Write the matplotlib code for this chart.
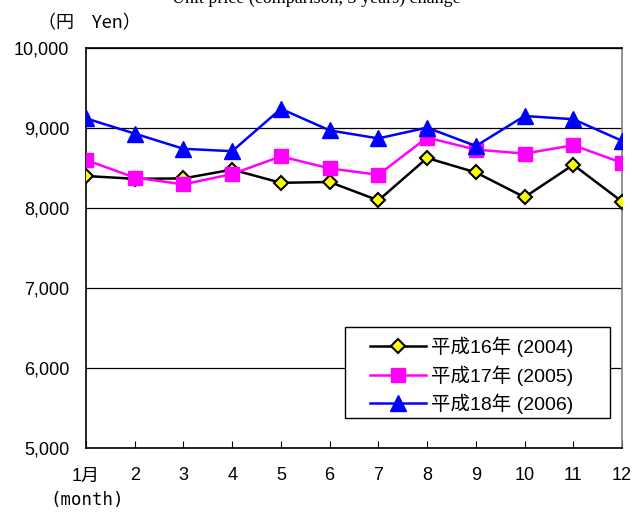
import matplotlib
matplotlib.use("Agg")
import matplotlib.pyplot as plt
from matplotlib.patches import Rectangle

plt.rcParams['font.family'] = ['Liberation Sans', 'Noto Sans CJK JP', 'DejaVu Sans']

# Monthly values (yen)
months = list(range(1, 13))
month_labels = ['1月', '2', '3', '4', '5', '6', '7', '8', '9', '10', '11', '12']
y2004 = [8400, 8365, 8370, 8480, 8315, 8325, 8095, 8625, 8445, 8135, 8540, 8080]
y2005 = [8600, 8380, 8295, 8425, 8645, 8495, 8415, 8880, 8730, 8680, 8785, 8565]
y2006 = [9120, 8930, 8740, 8710, 9240, 8970, 8870, 9005, 8775, 9150, 9110, 8840]
labels = ['平成16年 (2004)', '平成17年 (2005)', '平成18年 (2006)']

fig = plt.figure(figsize=(6.32, 5.14), dpi=100)
ax = fig.add_axes([86/632, 66/514, 536/632, 400/514])

ax.plot(months, y2004, color='black', lw=1.8, marker='D', ms=7.5,
        mfc='#ffff00', mec='black', mew=1.5, label=labels[0], zorder=3)
ax.plot(months, y2005, color='#ff00ff', lw=1.8, marker='s', ms=10,
        mfc='#ff00ff', mec='#ff00ff', label=labels[1], zorder=4)
ax.plot(months, y2006, color='#0000ff', lw=1.8, marker='^', ms=12,
        mfc='#0000ff', mec='#0000ff', label=labels[2], zorder=5)

ax.set_xlim(1, 12)
ax.set_ylim(5000, 10000)
ax.set_yticks(range(5000, 10001, 1000))
ax.set_yticklabels([f'{v:,}' for v in range(5000, 10001, 1000)], fontsize=13)
ax.set_xticks(months)
ax.set_xticklabels(month_labels, fontsize=13)
ax.tick_params(axis='x', direction='in', length=5, pad=14)
ax.tick_params(axis='y', length=0, pad=12)
ax.grid(axis='y', color='black', lw=0.9)
ax.set_axisbelow(True)
for ax_side in ['left', 'bottom', 'top']:
    ax.spines[ax_side].set_color('black')
    ax.spines[ax_side].set_linewidth(1.2)
ax.spines['right'].set_color('#808080')
ax.spines['right'].set_linewidth(1.2)

fig.text(50/632, 1 - 505/514, '(month)', fontsize=12.5, va='baseline',
         family=['DejaVu Sans Mono'])
fig.text(38/632, 1 - 28/514, '（円　Yen）', fontsize=13, va='baseline',
         family=['Noto Sans CJK JP'])
fig.text(316/632, 1 - 3/514, 'Unit price (comparison, 3 years) change',
         fontsize=13, ha='center', va='baseline', family=['Liberation Serif'])

# legend box (Excel style, wide padding)
box = Rectangle((0.483, 0.075), 0.494, 0.2275, transform=ax.transAxes,
                facecolor='white', edgecolor='black', lw=1.0, zorder=6)
ax.add_patch(box)
leg = ax.legend(loc='upper left', bbox_to_anchor=(0.512, 0.303), fontsize=14,
                handlelength=2.85, frameon=False, borderpad=0,
                labelspacing=0.42, handletextpad=0.3)
leg.set_zorder(7)

fig.savefig('out.png', dpi=100)
